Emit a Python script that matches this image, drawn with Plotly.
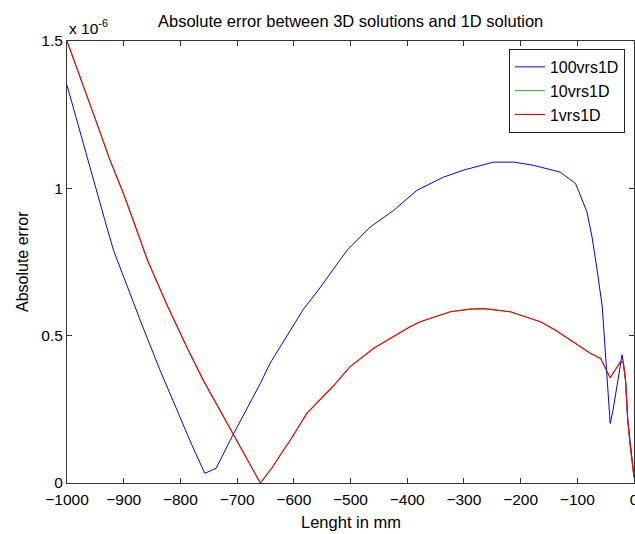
import plotly.graph_objects as go

# ---- data (values in units of 1e-6) ----
blue_x = [-1000, -975, -950, -933, -918, -898, -871, -836, -801, -780, -757, -737,
          -709, -680, -659, -642, -624, -606, -583, -557, -536, -506, -465, -424,
          -383, -336, -300, -248, -212, -177, -130, -103, -83, -74, -65, -56, -52,
          -47.5, -45, -42, -37, -33, -27, -21, -19, -15, -11, -6.5, -2.5, 0]
blue_y = [1.35, 1.175, 1.00, 0.89, 0.79, 0.688, 0.553, 0.383, 0.225, 0.13, 0.033, 0.05,
          0.157, 0.26, 0.338, 0.406, 0.462, 0.519, 0.59, 0.654, 0.711, 0.79, 0.869, 0.925,
          0.993, 1.038, 1.062, 1.089, 1.089, 1.078, 1.055, 1.016, 0.92, 0.835, 0.722, 0.598, 0.485,
          0.372, 0.293, 0.202, 0.247, 0.293, 0.36, 0.435, 0.41, 0.35, 0.214, 0.123, 0.067, 0.02]

red_x = [-1000, -975, -950, -925, -900, -883, -858, -825, -789, -760, -735, -712,
         -685, -659, -639, -618, -606, -577, -530, -501, -459, -430, -395, -377,
         -324, -289, -265, -218, -165, -139, -112, -77, -59, -50, -42, -24, -19,
         -15, -11, -6.5, -2.5, 0]
red_y = [1.5, 1.37, 1.235, 1.10, 0.98, 0.89, 0.756, 0.61, 0.462, 0.35, 0.262, 0.18,
         0.09, 0.0, 0.05, 0.112, 0.146, 0.236, 0.33, 0.394, 0.457, 0.49, 0.53, 0.547,
         0.581, 0.59, 0.592, 0.581, 0.547, 0.519, 0.485, 0.44, 0.423, 0.389, 0.357, 0.411, 0.41,
         0.35, 0.214, 0.123, 0.067, 0.02]

green_x = [-1000, -975, -950, -925, -900, -883, -858, -825, -789, -760, -735, -712,
           -685, -659, -639, -618, -606, -577, -530, -501, -459, -430, -395, -377,
           -324, -289, -265, -218, -165, -139, -112, -77, -59, -50, -42, -24, -19,
           -15, -11, -6.5, -2.5, 0]
green_y = [1.5, 1.37, 1.235, 1.10, 0.98, 0.89, 0.756, 0.61, 0.462, 0.35, 0.262, 0.18,
           0.09, 0.0, 0.05, 0.112, 0.146, 0.236, 0.33, 0.394, 0.457, 0.49, 0.53, 0.547,
           0.581, 0.59, 0.592, 0.581, 0.547, 0.519, 0.485, 0.44, 0.423, 0.389, 0.357, 0.411, 0.41,
           0.35, 0.214, 0.123, 0.067, 0.02]

scale = 1e-6
x_ticks = [-1000, -900, -800, -700, -600, -500, -400, -300, -200, -100, 0]
y_tick_vals = [0, 0.5, 1, 1.5]
y_tick_text = ["0", "0.5", "1", "1.5"]

FONT = "Liberation Sans, Arial, sans-serif"
AX = "#333333"

fig = go.Figure()
fig.add_trace(go.Scatter(x=blue_x, y=[v * scale for v in blue_y], mode="lines",
                         name="100vrs1D", line=dict(color="#0000FF", width=1)))
fig.add_trace(go.Scatter(x=green_x, y=[v * scale for v in green_y], mode="lines",
                         name="10vrs1D", line=dict(color="#008000", width=0.8)))
fig.add_trace(go.Scatter(x=red_x, y=[v * scale for v in red_y], mode="lines",
                         name="1vrs1D", line=dict(color="#FF0000", width=1.15)))

fig.update_layout(
    width=635, height=534,
    margin=dict(l=67, r=1, t=41, b=51, autoexpand=False),
    paper_bgcolor="white", plot_bgcolor="white",
    font=dict(family=FONT, size=15, color="black"),
    showlegend=True,
    legend=dict(x=0.984, y=0.982, xanchor="right", yanchor="top",
                bgcolor="white", bordercolor="#222222", borderwidth=1,
                font=dict(family=FONT, size=16, color="black")),
    xaxis=dict(range=[-1000, 0], tickvals=x_ticks, ticks="inside", ticklen=5,
               tickcolor=AX, showline=True, linecolor=AX, linewidth=1, mirror="ticks",
               showgrid=False, zeroline=False, ticklabelstandoff=2, automargin=False,
               ticklabeloverflow="allow",
               tickfont=dict(family=FONT, size=15.5)),
    yaxis=dict(range=[0, 1.5 * scale], tickvals=[v * scale for v in y_tick_vals],
               ticktext=y_tick_text, ticks="inside", ticklen=5, automargin=False,
               tickcolor=AX, showline=True, linecolor=AX, linewidth=1, mirror="ticks",
               showgrid=False, zeroline=False, tickfont=dict(family=FONT, size=15.5)),
    annotations=[
        dict(text="Absolute error between 3D solutions and 1D solution", xref="paper", yref="paper",
             x=0.5, y=1, yshift=20, xanchor="center", yanchor="middle", showarrow=False,
             font=dict(family=FONT, size=16.5)),
        dict(text="x 10<sup>-6</sup>", xref="paper", yref="paper", x=0, y=1, yshift=2,
             xanchor="left", yanchor="bottom", showarrow=False, font=dict(family=FONT, size=15.5)),
        dict(text="Lenght in mm", xref="paper", yref="paper", x=0.5, y=0, yshift=-39,
             xanchor="center", yanchor="middle", showarrow=False, font=dict(family=FONT, size=16.5)),
        dict(text="Absolute error", xref="paper", yref="paper", x=0, xshift=-45, y=0.5,
             xanchor="center", yanchor="middle", textangle=-90, showarrow=False,
             font=dict(family=FONT, size=16)),
    ],
)

fig.write_html("out.html")
